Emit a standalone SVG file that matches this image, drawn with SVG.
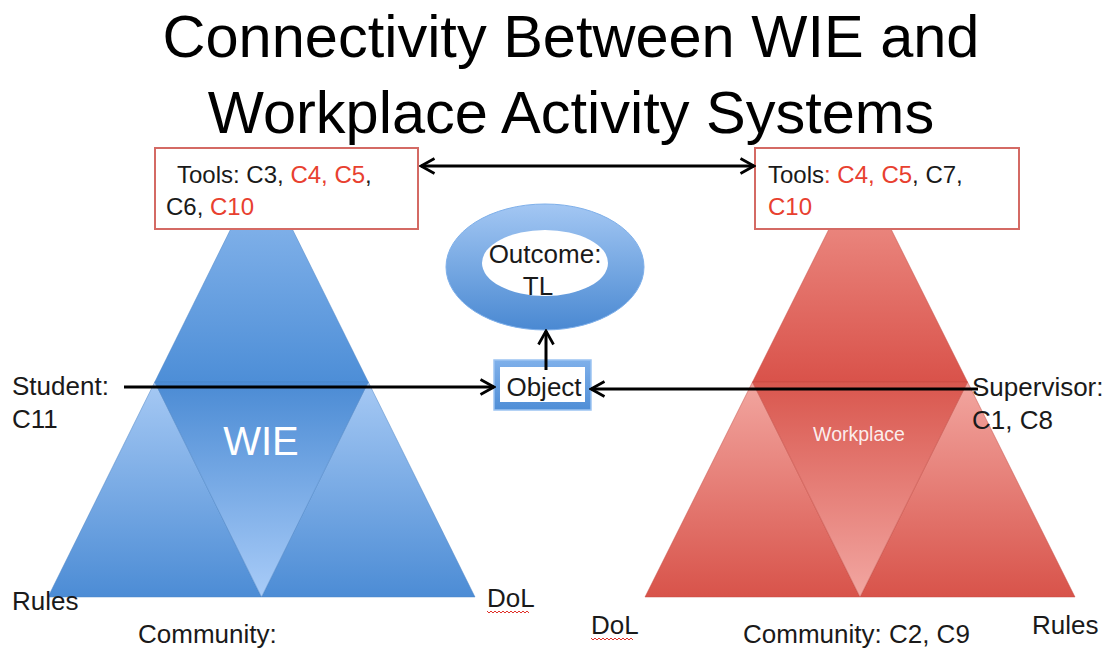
<svg xmlns="http://www.w3.org/2000/svg" width="1106" height="649" viewBox="0 0 1106 649">
  <style>
    text { font-family: "Liberation Sans", Arial, sans-serif; }
    .title { font-size: 59.5px; fill: #000; text-anchor: middle; }
    .lbl { font-size: 26px; fill: #1a1a1a; }
    .tl { font-size: 24px; fill: #1a1a1a; }
    .red { fill: #e8402f; }
    .toolbox { fill: #fff; stroke: #d46a64; stroke-width: 2; }
    .conn { stroke: #000; stroke-width: 3; fill: none; }
    .wavy { stroke: #e0312a; stroke-width: 1; fill: none; }
    .seg-b { stroke: #4a82c4; stroke-width: 0.8; stroke-opacity: 0.6; }
    .seg-r { stroke: #c24a42; stroke-width: 0.8; stroke-opacity: 0.6; }
  </style>
  <defs>
    <linearGradient id="bTop" x1="0" y1="0" x2="0" y2="1">
      <stop offset="0" stop-color="#91bcef"/>
      <stop offset="1" stop-color="#4d8ed7"/>
    </linearGradient>
    <linearGradient id="bSide" x1="0" y1="0" x2="0" y2="1">
      <stop offset="0" stop-color="#a6c9f4"/>
      <stop offset="1" stop-color="#4c8cd5"/>
    </linearGradient>
    <linearGradient id="bMid" x1="0" y1="0" x2="0" y2="1">
      <stop offset="0" stop-color="#4b8bd4"/>
      <stop offset="1" stop-color="#a9ccf8"/>
    </linearGradient>
    <linearGradient id="rTop" x1="0" y1="0" x2="0" y2="1">
      <stop offset="0" stop-color="#f09890"/>
      <stop offset="1" stop-color="#d9524a"/>
    </linearGradient>
    <linearGradient id="rSide" x1="0" y1="0" x2="0" y2="1">
      <stop offset="0" stop-color="#f2a6a0"/>
      <stop offset="1" stop-color="#d8534a"/>
    </linearGradient>
    <linearGradient id="rMid" x1="0" y1="0" x2="0" y2="1">
      <stop offset="0" stop-color="#d9574e"/>
      <stop offset="1" stop-color="#f2a7a2"/>
    </linearGradient>
    <linearGradient id="ring" x1="0" y1="0" x2="0" y2="1">
      <stop offset="0" stop-color="#a3c7f3"/>
      <stop offset="1" stop-color="#4a89d2"/>
    </linearGradient>
    <linearGradient id="objG" x1="0" y1="0" x2="0" y2="1">
      <stop offset="0" stop-color="#7fb0ea"/>
      <stop offset="1" stop-color="#4f8ed6"/>
    </linearGradient>
    <marker id="ah" viewBox="0 0 12 12" refX="10.5" refY="6" markerWidth="6" markerHeight="6" markerUnits="strokeWidth" orient="auto-start-reverse">
      <path d="M1.5,1 L10.5,6 L1.5,11" fill="none" stroke="#000" stroke-width="1.8"/>
    </marker>
  </defs>

  <g id="title">
    <text class="title" x="571" y="57">Connectivity Between WIE and</text>
    <text class="title" x="571" y="133">Workplace Activity Systems</text>
  </g>

  <g id="wie-pyramid">
    <polygon points="261.5,167 368.25,382 154.75,382" fill="url(#bTop)" class="seg-b"/>
    <polygon points="154.75,382 261.5,597 48,597" fill="url(#bSide)" class="seg-b"/>
    <polygon points="368.25,382 475,597 261.5,597" fill="url(#bSide)" class="seg-b"/>
    <polygon points="154.75,382 368.25,382 261.5,597" fill="url(#bMid)" class="seg-b"/>
    <text x="261" y="455" font-size="40" fill="#fff" text-anchor="middle">WIE</text>
  </g>

  <g id="workplace-pyramid">
    <polygon points="860,167 967.5,382 752.5,382" fill="url(#rTop)" class="seg-r"/>
    <polygon points="752.5,382 860,597 645,597" fill="url(#rSide)" class="seg-r"/>
    <polygon points="967.5,382 1075,597 860,597" fill="url(#rSide)" class="seg-r"/>
    <polygon points="752.5,382 967.5,382 860,597" fill="url(#rMid)" class="seg-r"/>
    <text x="859" y="441" font-size="19.5" fill="#fff" fill-opacity="0.9" text-anchor="middle">Workplace</text>
  </g>

  <g id="tools-wie">
    <rect class="toolbox" x="155" y="148" width="263" height="81"/>
    <text class="tl" x="177" y="183">Tools: C3, <tspan class="red">C4, C5</tspan>,</text>
    <text class="tl" x="166" y="215">C6, <tspan class="red">C10</tspan></text>
  </g>

  <g id="tools-workplace">
    <rect class="toolbox" x="755" y="148" width="264" height="81"/>
    <text class="tl" x="768" y="183">Tools<tspan class="red">: C4, C5</tspan>, C7,</text>
    <text class="tl red" x="768" y="215">C10</text>
  </g>

  <g id="outcome">
    <ellipse cx="545" cy="267" rx="99" ry="63" fill="url(#ring)" stroke="#7fb0ea" stroke-width="1"/>
    <ellipse cx="545" cy="263" rx="63" ry="33" fill="#fff"/>
    <text class="lbl" x="545" y="263" text-anchor="middle">Outcome:</text>
    <text class="lbl" x="538" y="295" text-anchor="middle">TL</text>
  </g>

  <g id="object">
    <rect x="494" y="360" width="97" height="50" fill="url(#objG)" stroke="#9cc4f2" stroke-width="1.5"/>
    <rect x="500" y="367" width="85" height="35" fill="#fff"/>
    <text class="lbl" x="544" y="396" text-anchor="middle">Object</text>
  </g>

  <g id="labels">
    <text class="lbl" x="12" y="395">Student:</text>
    <text class="lbl" x="12" y="428">C11</text>
    <text class="lbl" x="12" y="610">Rules</text>
    <text class="lbl" x="487" y="607">DoL</text>
    <path class="wavy" d="M487,611 l2,2 l2,-2 l2,2 l2,-2 l2,2 l2,-2 l2,2 l2,-2 l2,2 l2,-2 l2,2 l2,-2 l2,2 l2,-2 l2,2 l2,-2 l2,2 l2,-2 l2,2 l2,-2 l2,2"/>
    <text class="lbl" x="138" y="643">Community:</text>
    <text class="lbl" x="591" y="634">DoL</text>
    <path class="wavy" d="M591,638 l2,2 l2,-2 l2,2 l2,-2 l2,2 l2,-2 l2,2 l2,-2 l2,2 l2,-2 l2,2 l2,-2 l2,2 l2,-2 l2,2 l2,-2 l2,2 l2,-2 l2,2 l2,-2 l2,2"/>
    <text class="lbl" x="743" y="643">Community: C2, C9</text>
    <text class="lbl" x="1032" y="634">Rules</text>
    <text class="lbl" x="972" y="396">Supervisor:</text>
    <text class="lbl" x="972" y="429">C1, C8</text>
  </g>

  <g id="connectors">
    <line class="conn" x1="421" y1="166" x2="754" y2="166" marker-start="url(#ah)" marker-end="url(#ah)"/>
    <line class="conn" x1="124" y1="387" x2="494" y2="387" marker-end="url(#ah)"/>
    <line class="conn" x1="978" y1="389" x2="591" y2="389" marker-end="url(#ah)"/>
    <line class="conn" x1="546" y1="370" x2="546" y2="331" marker-end="url(#ah)"/>
  </g>
</svg>
